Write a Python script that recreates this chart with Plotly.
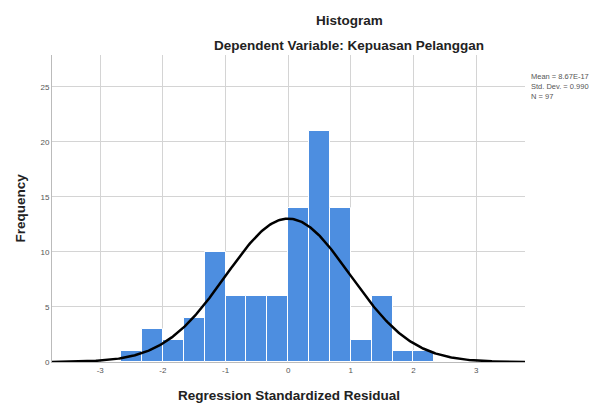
import numpy as np
import plotly.graph_objects as go

bin_left_edges = [-8/3, -7/3, -2, -5/3, -4/3, -1, -2/3, -1/3, 0, 1/3, 2/3, 1, 4/3, 5/3, 2]
counts = [1, 3, 2, 4, 10, 6, 6, 6, 14, 21, 14, 2, 6, 1, 1]
bin_width = 1/3
mean = 8.67e-17
std = 0.990
n = 97
x_ticks = [-3, -2, -1, 0, 1, 2, 3]
y_ticks = [0, 5, 10, 15, 20, 25]
stats_lines = ["Mean = 8.67E-17", "Std. Dev. = 0.990", "N = 97"]

centers = [e + bin_width / 2 for e in bin_left_edges]
xs = np.linspace(-3.77, 3.78, 400)
ys = n * bin_width * np.exp(-0.5 * ((xs - mean) / std) ** 2) / (std * np.sqrt(2 * np.pi))

fig = go.Figure()
fig.add_trace(go.Bar(x=centers, y=counts, width=bin_width,
                     marker=dict(color="#4d8ee0", line=dict(color="white", width=1)),
                     showlegend=False, hoverinfo="skip"))
fig.add_trace(go.Scatter(x=xs, y=ys, mode="lines", line=dict(color="black", width=2.5),
                         showlegend=False, hoverinfo="skip"))

font = "Liberation Sans, Arial, sans-serif"
title_font = dict(size=13.5, color="#222", family=font)
fig.update_layout(
    width=598, height=407,
    margin=dict(l=44, r=81, t=47, b=53),
    paper_bgcolor="white", plot_bgcolor="white",
    font=dict(family=font),
    bargap=0,
)
fig.add_annotation(text="<b>Histogram</b>", xref="paper", yref="paper", x=0.630, y=1.0,
                   yanchor="middle", yshift=35, showarrow=False, font=title_font)
fig.add_annotation(text="<b>Dependent Variable: Kepuasan Pelanggan</b>", xref="paper", yref="paper",
                   x=0.628, y=1.0, yanchor="middle", yshift=10, showarrow=False, font=title_font)
fig.add_annotation(text="<br>".join(stats_lines), xref="paper", yref="paper", x=1.0, xshift=4,
                   y=1.0, yshift=-31, xanchor="left", yanchor="middle", align="left",
                   showarrow=False, font=dict(size=7.5, color="#555"))
fig.add_annotation(text="<b>Regression Standardized Residual</b>", xref="paper", yref="paper",
                   x=0.501, y=0.0, yanchor="middle", yshift=-33, showarrow=False, font=title_font)
fig.add_annotation(text="<b>Frequency</b>", xref="paper", yref="paper", x=0.0, xshift=-32,
                   y=0.5, textangle=-90, xanchor="center", yanchor="middle",
                   showarrow=False, font=title_font)
fig.update_xaxes(range=[-3.77, 3.78], tickvals=x_ticks, ticktext=[str(t) for t in x_ticks],
                 showgrid=True, gridcolor="#d4d4d4", gridwidth=1, zeroline=False, automargin=False,
                 showline=True, linecolor="#bbbbbb", ticks="", tickfont=dict(size=8, color="#555"))
fig.update_yaxes(range=[0, 27.9], tickvals=y_ticks, showgrid=True, gridcolor="#d4d4d4", gridwidth=1,
                 zeroline=False, showline=True, linecolor="#bbbbbb", ticks="", automargin=False,
                 tickfont=dict(size=8, color="#555"))

fig.write_html("out.html")
